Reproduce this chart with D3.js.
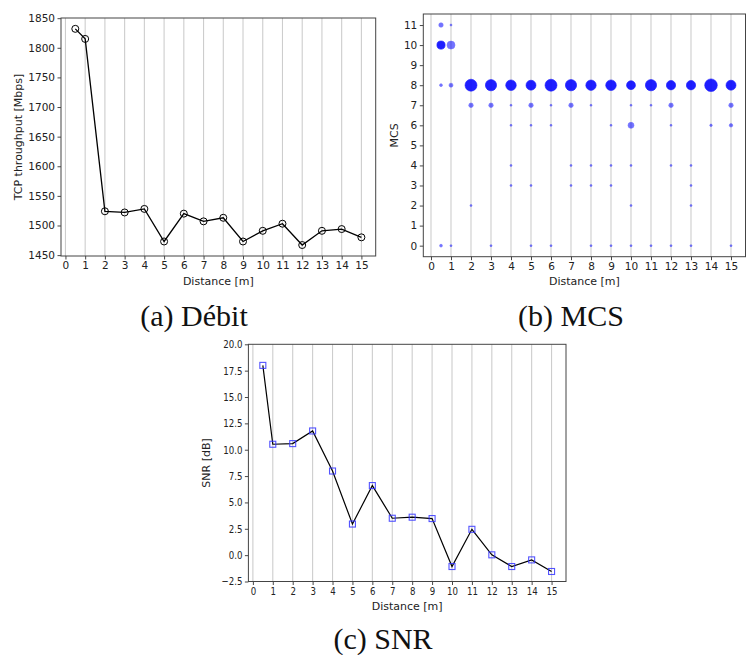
<!DOCTYPE html>
<html><head><meta charset="utf-8">
<script src="https://cdn.jsdelivr.net/npm/d3@7"></script>
<style>
body{margin:0;background:#fff;}
svg{display:block;}
</style></head><body>
<svg id="fig" width="747" height="655"></svg>
<script>
// ---------------- data ----------------
const distance = [0.5, 1, 2, 3, 4, 5, 6, 7, 8, 9, 10, 11, 12, 13, 14, 15];
const throughputMbps = [1832, 1815, 1524, 1522, 1528, 1473, 1520, 1507, 1513, 1473, 1491, 1503, 1467, 1491, 1494, 1480];
const snrDb = [18.0, 10.52, 10.58, 11.78, 7.98, 2.95, 6.6, 3.5, 3.6, 3.47, -1.08, 2.45, 0.03, -1.08, -0.45, -1.55];

const xTicks = d3.range(0, 16);
const throughputTicks = [1450, 1500, 1550, 1600, 1650, 1700, 1750, 1800, 1850];
const mcsTicks = [0, 1, 2, 3, 4, 5, 6, 7, 8, 9, 10, 11];
const snrTicks = [-2.5, 0, 2.5, 5, 7.5, 10, 12.5, 15, 17.5, 20];

// MCS occurrences: distance, MCS index, relative count
const mcsDistance = [0.5,0.5,0.5,0.5, 1,1,1,1, 2,2,2, 3,3,3, 4,4,4,4,4, 5,5,5,5,5, 6,6,6,6, 7,7,7,7, 8,8,8,8,8, 9,9,9,9,9, 10,10,10,10,10,10, 11,11,11, 12,12,12,12,12, 13,13,13,13,13, 14,14, 15,15,15,15];
const mcsIndex    = [11,10,8,0, 11,10,8,0, 8,7,2, 8,7,0, 8,7,6,4,3, 8,7,6,3,0, 8,7,6,0, 8,7,4,3, 8,7,4,3,0, 8,6,4,3,0, 8,7,6,4,2,0, 8,7,0, 8,7,6,4,0, 8,4,3,2,0, 8,6, 8,7,6,0];
const mcsCount    = [5,17,2,2, 1,16,4,1, 36,5,1, 32,5,1, 28,1,1,1,1, 25,5,1,1,1, 36,1,1,1, 32,5,1,1, 27,1,1,1,1, 28,1,1,1,1, 20,1,9,1,1,1, 32,1,1, 22,5,1,1,1, 22,1,1,1,1, 40,1.5, 25,5,3,1];

const captions = ["(a) Débit", "(b) MCS", "(c) SNR"];

// ---------------- drawing ----------------
const svg = d3.select("#fig");
svg.append("rect").attr("width", 747).attr("height", 655).attr("fill", "#fff");

function panel(cfg) {
  const x = d3.scaleLinear().domain(cfg.xDomain).range([cfg.left, cfg.right]);
  const y = d3.scaleLinear().domain(cfg.yDomain).range([cfg.bottom, cfg.top]);
  const g = svg.append("g");
  g.selectAll("line.grid").data(xTicks).join("line")
    .attr("x1", d => x(d)).attr("x2", d => x(d))
    .attr("y1", cfg.top).attr("y2", cfg.bottom)
    .attr("stroke", "#cdcdcd").attr("stroke-width", 1.1);
  const ax = g.append("g").attr("transform", `translate(0,${cfg.bottom})`)
    .call(d3.axisBottom(x).tickValues(xTicks).tickFormat(d3.format("d")).tickSize(3.5).tickPadding(2.5));
  const ay = g.append("g").attr("transform", `translate(${cfg.left},0)`)
    .call(d3.axisLeft(y).tickValues(cfg.yTicks).tickFormat(cfg.yFormat).tickSize(3.5).tickPadding(2.5));
  [ax, ay].forEach(a => {
    a.select(".domain").remove();
    a.selectAll(".tick line").attr("stroke", "#333").attr("stroke-width", 0.9);
    a.selectAll(".tick text").attr("fill", "#222")
      .style("font-family", "DejaVu Sans").style("font-size", cfg.tickFont + "px");
  });
  if (cfg.tickSquash) {
    ax.selectAll(".tick text").attr("transform", `scale(${cfg.tickSquash},1)`);
    ay.selectAll(".tick text").attr("x", -6 / cfg.tickSquash).attr("transform", `scale(${cfg.tickSquash},1)`);
  }
  g.append("rect").attr("x", cfg.left).attr("y", cfg.top)
    .attr("width", cfg.right - cfg.left).attr("height", cfg.bottom - cfg.top)
    .attr("fill", "none").attr("stroke", "#444").attr("stroke-width", 1);
  g.append("text").attr("x", (cfg.left + cfg.right) / 2).attr("y", cfg.xLabelY)
    .attr("text-anchor", "middle").attr("fill", "#222")
    .style("font-family", "DejaVu Sans").style("font-size", cfg.labelFont + "px")
    .text("Distance [m]");
  g.append("text")
    .attr("transform", `translate(${cfg.yLabelX},${(cfg.top + cfg.bottom) / 2}) rotate(-90)`)
    .attr("text-anchor", "middle").attr("dy", "0.35em").attr("fill", "#222")
    .style("font-family", "DejaVu Sans").style("font-size", cfg.labelFont + "px")
    .text(cfg.yLabel);
  return {x, y, g};
}

// (a) throughput
const A = panel({left: 61, right: 375.7, top: 18, bottom: 256,
  xDomain: [-0.225, 15.725], yDomain: [1448.5, 1850.3],
  yTicks: throughputTicks, yFormat: d3.format("d"),
  tickFont: 10.5, labelFont: 11, xLabelY: 285, yLabelX: 18,
  yLabel: "TCP throughput [Mbps]"});
const tpData = distance.map((d, i) => [d, throughputMbps[i]]);
A.g.append("path").datum(tpData)
  .attr("d", d3.line().x(d => A.x(d[0])).y(d => A.y(d[1])))
  .attr("fill", "none").attr("stroke", "#000").attr("stroke-width", 1.3);
A.g.selectAll("circle.pt").data(tpData).join("circle")
  .attr("cx", d => A.x(d[0])).attr("cy", d => A.y(d[1])).attr("r", 3.5)
  .attr("fill", "none").attr("stroke", "#000").attr("stroke-width", 1);

// (b) MCS
const B = panel({left: 423.3, right: 745.5, top: 14, bottom: 256.7,
  xDomain: [-0.385, 15.725], yDomain: [-0.55, 11.55],
  yTicks: mcsTicks, yFormat: d3.format("d"),
  tickFont: 10.5, labelFont: 11, xLabelY: 285, yLabelX: 394,
  yLabel: "MCS"});
const rScale = d3.scaleSqrt().domain([0, 40]).range([0, 6.3]);
const mcsData = mcsDistance.map((d, i) => ({d, m: mcsIndex[i], c: mcsCount[i]}));
const maxByDist = d3.rollup(mcsData, v => d3.max(v, e => e.c), e => e.d);
B.g.selectAll("circle.mcs").data(mcsData).join("circle")
  .attr("cx", e => B.x(e.d)).attr("cy", e => B.y(e.m))
  .attr("r", e => rScale(e.c))
  .attr("fill", "#0000ff").attr("stroke", "#0000ff").attr("stroke-width", 0.6)
  .attr("opacity", e => (e.c === maxByDist.get(e.d) && e.c > 16 ? 0.88 : 0.55));

// (c) SNR
const C = panel({left: 248.4, right: 566, top: 344.3, bottom: 581.5,
  xDomain: [-0.225, 15.725], yDomain: [-2.5, 20],
  yTicks: snrTicks, yFormat: d3.format(".1f"),
  tickFont: 10.5, tickSquash: 0.82, labelFont: 11, xLabelY: 610, yLabelX: 206,
  yLabel: "SNR [dB]"});
const snrData = distance.map((d, i) => [d, snrDb[i]]);
C.g.append("path").datum(snrData)
  .attr("d", d3.line().x(d => C.x(d[0])).y(d => C.y(d[1])))
  .attr("fill", "none").attr("stroke", "#000").attr("stroke-width", 1.2);
C.g.selectAll("rect.pt").data(snrData).join("rect")
  .attr("x", d => C.x(d[0]) - 3).attr("y", d => C.y(d[1]) - 3)
  .attr("width", 6).attr("height", 6)
  .attr("fill", "none").attr("stroke", "#3535ff").attr("stroke-opacity", 0.85).attr("stroke-width", 1.1);

// captions
const capPos = [[194, 326], [571, 326], [383, 649]];
svg.selectAll("text.cap").data(captions).join("text")
  .attr("x", (d, i) => capPos[i][0]).attr("y", (d, i) => capPos[i][1])
  .attr("text-anchor", "middle").attr("fill", "#111")
  .style("font-family", "Liberation Serif").style("font-size", "30px")
  .text(d => d);
</script>
</body></html>
